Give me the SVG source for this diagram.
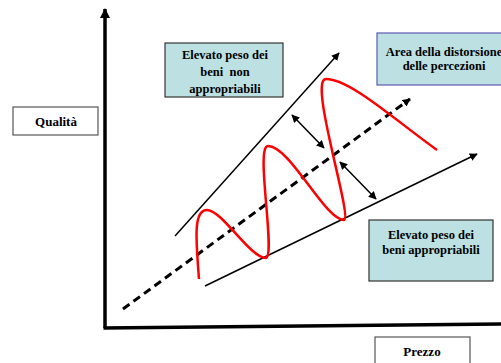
<svg xmlns="http://www.w3.org/2000/svg" width="501" height="363" viewBox="0 0 501 363">
<defs>
<marker id="ahs" viewBox="0 0 10 10" refX="9" refY="5" markerWidth="8" markerHeight="8" orient="auto-start-reverse" markerUnits="userSpaceOnUse">
<path d="M0,0 L10,5 L0,10 z" fill="#000"/>
</marker>
<marker id="ahx" viewBox="0 0 10 10" refX="9" refY="5" markerWidth="10" markerHeight="10" orient="auto" markerUnits="userSpaceOnUse">
<path d="M0,0 L10,5 L0,10 z" fill="#000"/>
</marker>
</defs>
<style>
text{font-family:"Liberation Serif","Times New Roman",serif;font-weight:bold;fill:#000;text-anchor:middle}
.lab{font-size:12.5px}
.ax{font-size:13px}
.tb{fill:#bde1e2;stroke:#333;stroke-width:1.2}
.wb{fill:#fff;stroke:#555;stroke-width:1.2}
.ln{stroke:#000;stroke-width:1.5;fill:none}
</style>
<g id="connectors">
<line x1="105" y1="328" x2="105" y2="9" stroke="#000" stroke-width="3.5" marker-end="url(#ahx)"/>
<line x1="103.5" y1="328" x2="501" y2="324" stroke="#000" stroke-width="3.5"/>
<line class="ln" x1="175" y1="236" x2="339" y2="53" marker-end="url(#ahs)"/>
<line class="ln" x1="205" y1="286" x2="477" y2="154" marker-end="url(#ahs)"/>
<line x1="123" y1="309" x2="410" y2="99" stroke="#000" stroke-width="3" stroke-dasharray="8,5" marker-end="url(#ahs)"/>
<line class="ln" x1="292" y1="115" x2="324" y2="148" stroke-width="2" marker-start="url(#ahs)" marker-end="url(#ahs)"/>
<line class="ln" x1="340" y1="162" x2="376" y2="199" stroke-width="2" marker-start="url(#ahs)" marker-end="url(#ahs)"/>
<path d="M199,279 C196,240 193,210 207,210 C222,210 250,258 266,258 C276,255 255,146 268,146 C290,146 325,220 344,220 C353,218 308,79 326,79 C350,79 395,120 437,150" fill="none" stroke="#f00" stroke-width="2.5"/>
</g>
<g id="qualita">
<rect class="wb" x="13" y="107" width="85" height="28"/>
<text class="ax" x="56" y="126">Qualità</text>
</g>
<g id="prezzo">
<rect class="wb" x="375" y="337" width="95" height="30"/>
<text class="ax" x="422" y="356">Prezzo</text>
</g>
<g id="box-non-appropriabili">
<rect class="tb" x="165" y="43" width="118" height="54"/>
<text class="lab" x="225" y="59">Elevato peso dei</text>
<text class="lab" x="225" y="76" xml:space="preserve">beni  non</text>
<text class="lab" x="225" y="93">appropriabili</text>
</g>
<g id="box-distorsione">
<rect x="377" y="33" width="130" height="52" fill="#bde1e2" stroke="#5a5ab4" stroke-width="1.2"/>
<text class="lab" x="444" y="56">Area della distorsione</text>
<text class="lab" x="444" y="70">delle percezioni</text>
</g>
<g id="box-appropriabili">
<rect class="tb" x="369" y="220" width="124" height="61"/>
<text class="lab" x="431" y="239">Elevato peso dei</text>
<text class="lab" x="431" y="254">beni appropriabili</text>
</g>
</svg>
